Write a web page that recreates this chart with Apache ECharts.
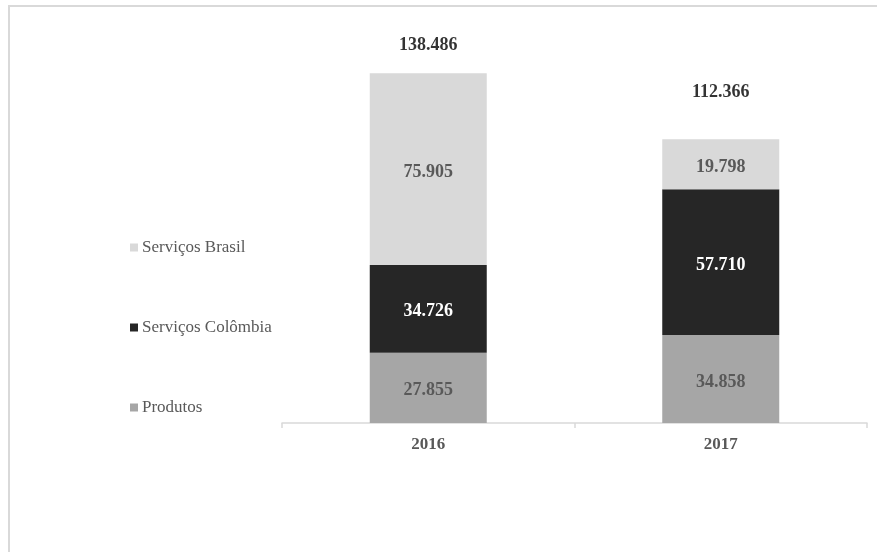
<!DOCTYPE html>
<html>
<head>
<meta charset="utf-8">
<script src="https://cdn.jsdelivr.net/npm/echarts@6/dist/echarts.min.js"></script>
<style>
html,body{margin:0;padding:0;background:#fff;}
#c{width:877px;height:552px;}
</style>
</head>
<body>
<div id="c"></div>
<script>
const categories = ['2016', '2017'];
const produtos = [27855, 34858];
const servicosColombia = [34726, 57710];
const servicosBrasil = [75905, 19798];
const legendOrder = ['Serviços Brasil', 'Serviços Colômbia', 'Produtos'];
const totals = categories.map((_, i) => produtos[i] + servicosColombia[i] + servicosBrasil[i]);

const fmt = v => {
  const s = String(Math.round(v));
  return s.replace(/\B(?=(\d{3})+(?!\d))/g, '.');
};
const FONT = '"Liberation Serif", "Times New Roman", serif';

const chart = echarts.init(document.getElementById('c'), null, {renderer: 'canvas'});
const labelBase = {
  show: true, position: 'inside', fontFamily: FONT, fontWeight: 'bold', fontSize: 18,
  offset: [0, 3],
  formatter: p => fmt(p.value)
};
const totalOffsets = [[0, -13], [0, -32]];

chart.setOption({
  animation: false,
  backgroundColor: '#fff',
  textStyle: {fontFamily: FONT},
  grid: {left: 282, right: 10, top: 19, bottom: 129, containLabel: false},
  legend: {
    orient: 'vertical', left: 125, top: 234,
    itemWidth: 8, itemHeight: 8, itemGap: 63,
    icon: 'rect',
    data: legendOrder,
    textStyle: {fontFamily: FONT, fontSize: 17, color: '#595959', padding: [0, 0, 0, -1]}
  },
  xAxis: {
    type: 'category', data: categories,
    axisLine: {lineStyle: {color: '#d9d9d9', width: 1.5}},
    axisTick: {show: true, length: 5, lineStyle: {color: '#d9d9d9', width: 1.5}},
    axisLabel: {fontFamily: FONT, fontWeight: 'bold', fontSize: 17, color: '#595959', margin: 13}
  },
  yAxis: {type: 'value', min: 0, max: 160000, show: false, splitLine: {show: false}},
  series: [
    {name: 'Produtos', type: 'bar', stack: 't', barWidth: '40%', data: produtos,
     itemStyle: {color: '#a6a6a6'}, label: Object.assign({}, labelBase, {color: '#595959'})},
    {name: 'Serviços Colômbia', type: 'bar', stack: 't', data: servicosColombia,
     itemStyle: {color: '#262626'}, label: Object.assign({}, labelBase, {color: '#ffffff'})},
    {name: 'Serviços Brasil', type: 'bar', stack: 't', data: servicosBrasil,
     itemStyle: {color: '#d9d9d9'}, label: Object.assign({}, labelBase, {color: '#595959'})},
    {name: 'Total', type: 'scatter', symbolSize: 1, itemStyle: {color: 'rgba(0,0,0,0)'},
     data: totals.map((v, i) => ({value: v, label: {offset: totalOffsets[i]}})),
     label: {show: true, position: 'top', distance: 5, fontFamily: FONT, fontWeight: 'bold', fontSize: 18,
             color: '#000', formatter: p => fmt(p.value)},
     silent: true, z: 10}
  ],
  graphic: [
    {type: 'line', shape: {x1: 9, y1: 6, x2: 9, y2: 560}, style: {stroke: '#d9d9d9', lineWidth: 2}},
    {type: 'line', shape: {x1: 8, y1: 6, x2: 880, y2: 6}, style: {stroke: '#d9d9d9', lineWidth: 2}}
  ]
});
</script>
</body>
</html>
